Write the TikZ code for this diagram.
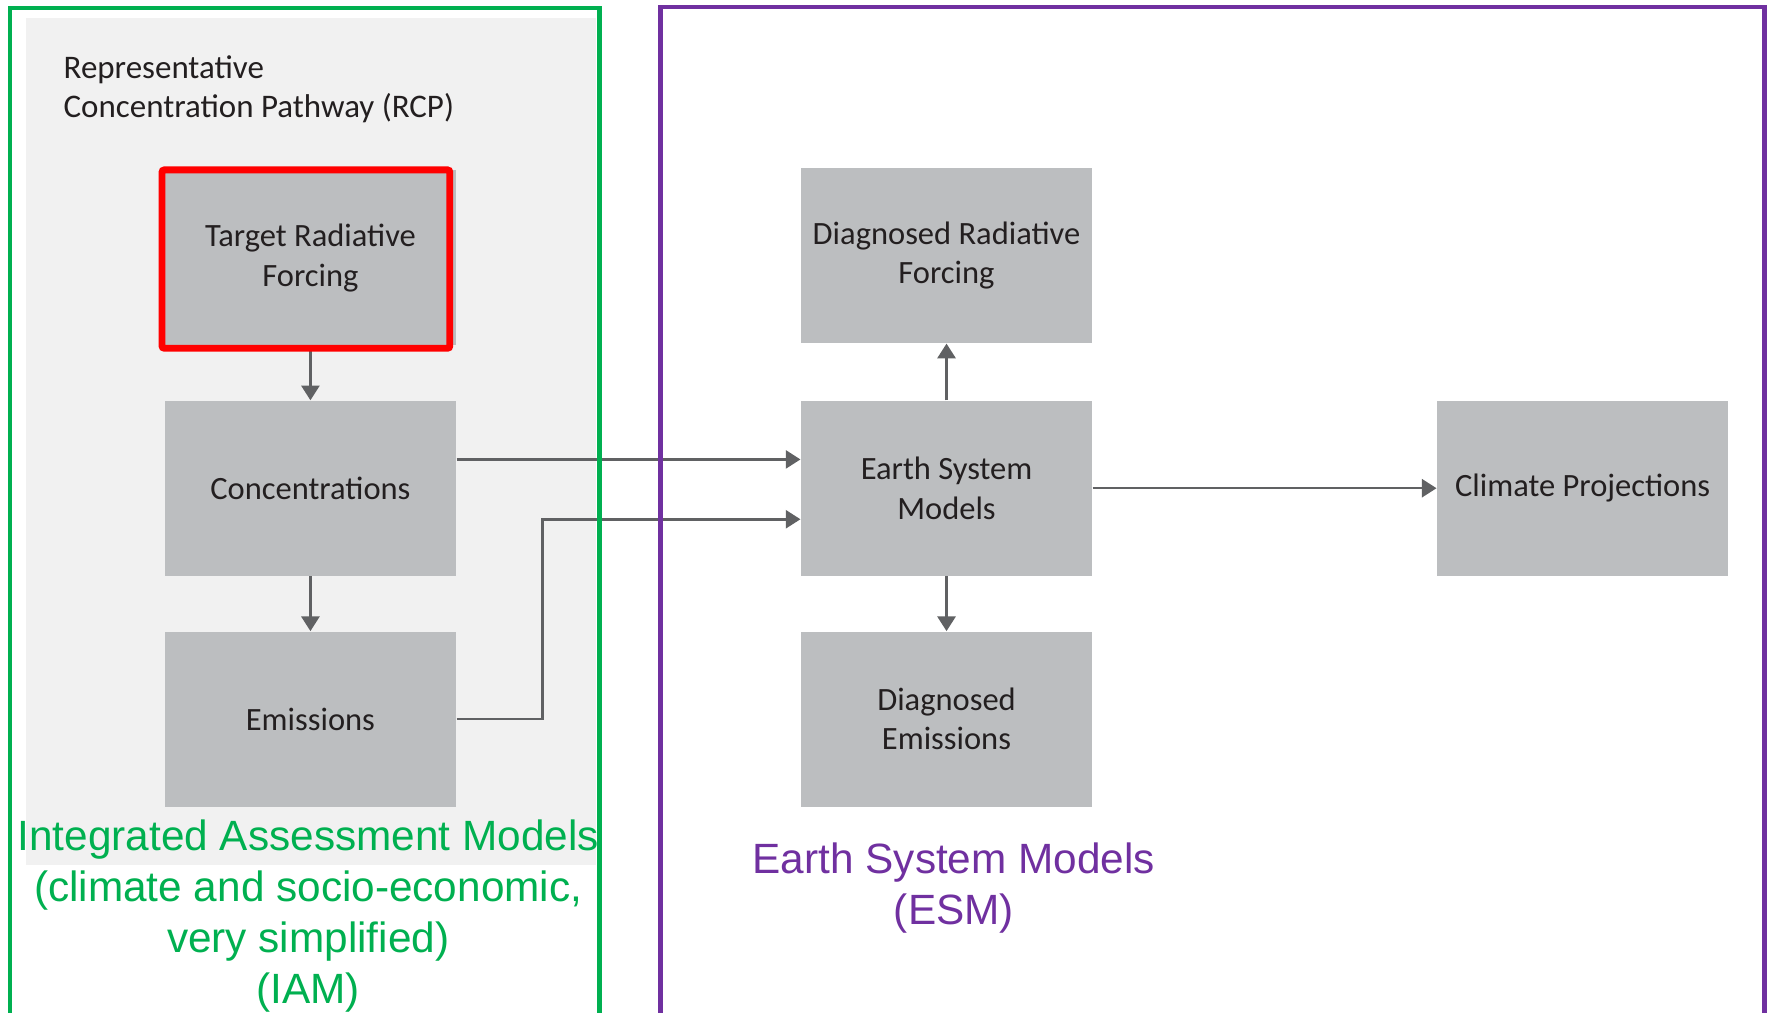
\documentclass[tikz,border=0pt]{standalone}
\usepackage{fontspec}
\setmainfont{Carlito}
\newfontfamily\arialf{Liberation Sans}
\usetikzlibrary{calc,arrows.meta}
\definecolor{boxgray}{HTML}{BCBEC0}
\definecolor{bggray}{HTML}{F1F1F1}
\definecolor{arrgray}{HTML}{606163}
\definecolor{txt}{HTML}{231F20}
\definecolor{iamgreen}{HTML}{00B050}
\definecolor{esmpurple}{HTML}{7030A0}
\begin{document}
\begin{tikzpicture}[x=0.5pt,y=-0.5pt,
  box/.style={fill=boxgray,minimum width=129pt,minimum height=77.5pt,inner sep=0pt,align=center,font=\fontsize{14.4}{17.5}\selectfont,text=txt},
  arr/.style={draw=arrgray,line width=1.1pt,-{Triangle[length=6.5pt,width=8pt]}},
  lbl/.style={align=center,inner sep=0pt,font=\arialf\fontsize{18.75}{22.5}\selectfont},
  frame/.style={line width=2pt}]
\useasboundingbox (0,0) rectangle (1568,897);
\fill[white] (0,0) rectangle (1568,897);
\fill[bggray] (23,16) rectangle (528,766);
% RCP label
\node[anchor=west,align=left,inner sep=0pt,text=txt,font=\fontsize{14.6}{17}\selectfont] (rcp) at (56,79) {Representative\\Concentration Pathway (RCP)};
% boxes
\node[box] (trf) at (275,228.5) {Target Radiative\\Forcing};
\node[box] (conc) at (275,432.5) {Concentrations};
\node[box] (emis) at (275,637) {Emissions};
\node[box] (drf) at (838.5,226.5) {Diagnosed Radiative\\Forcing};
\node[box] (esm) at (838.5,432.5) {Earth System\\Models};
\node[box] (de) at (838.5,637) {Diagnosed\\Emissions};
\node[box] (cp) at (1402,432.5) {Climate Projections};
% arrows
\draw[arr] (trf.south) -- (conc.north);
\draw[arr] (conc.south) -- (emis.north);
\draw[arr] ($(conc.east)+(0,-25.5)$) -- ($(esm.west)+(0,-25.5)$);
\draw[arr] (emis.east) -- ++(76,0) |- ($(esm.west)+(0,27.5)$);
\draw[arr] (esm.north) -- (drf.south);
\draw[arr] (esm.south) -- (de.north);
\draw[arr] (esm.east) -- (cp.west);
% highlight
\draw[red,line width=3pt,rounded corners=1pt] (143.5,150.5) rectangle (398.5,308.5);
% frames
\draw[iamgreen,frame] (9,910) -- (9,7) -- (531,7) -- (531,910);
\draw[esmpurple,frame] (585,910) -- (585,6) -- (1563,6) -- (1563,910);
% group labels
\node[lbl,text=iamgreen] (iam) at (273,811.5) {Integrated Assessment Models\\(climate and socio-economic,\\very simplified)\\(IAM)};
\node[lbl,text=esmpurple] (esml) at (845,786.5) {Earth System Models\\(ESM)};
\end{tikzpicture}
\end{document}
